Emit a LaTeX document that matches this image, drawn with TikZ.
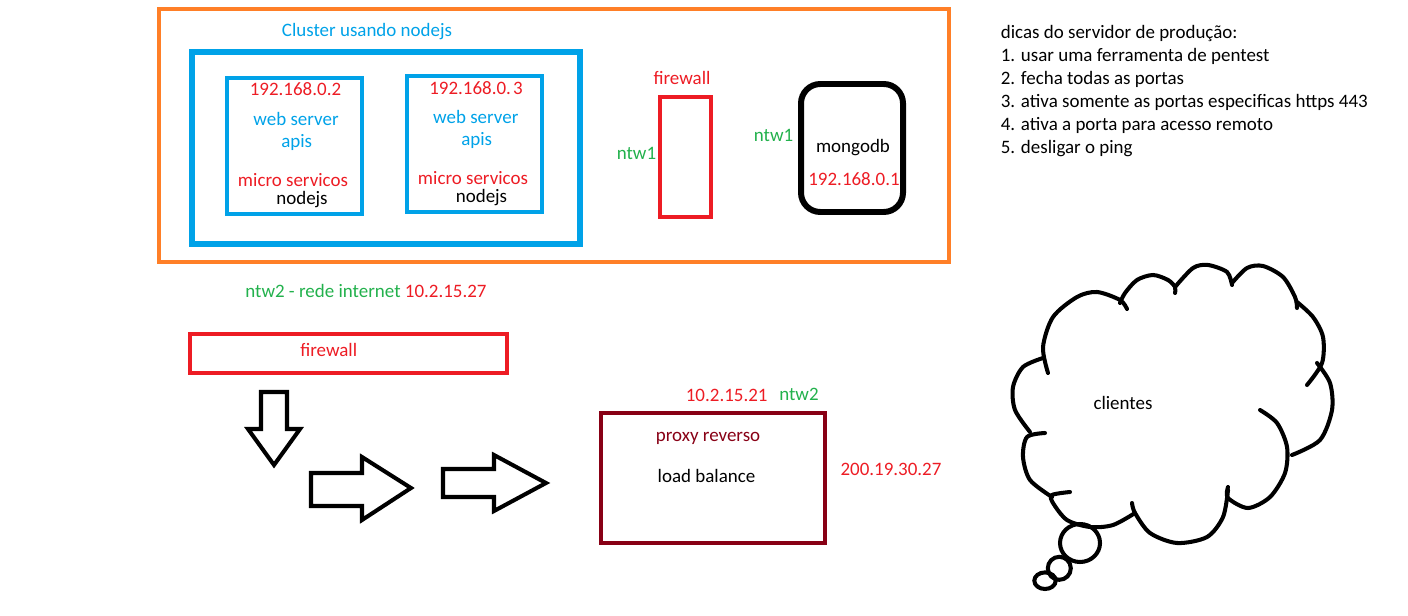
\documentclass[tikz,border=0pt]{standalone}
\usepackage{fontspec}
\setmainfont{Carlito}
\definecolor{paintorange}{HTML}{FF7F27}
\definecolor{paintblue}{HTML}{00A2E8}
\definecolor{paintred}{HTML}{ED1C24}
\definecolor{paintgreen}{HTML}{22B14C}
\definecolor{paintwine}{HTML}{880015}
\tikzset{
    lbl/.style={anchor=base, inner sep=0pt, font=\fontsize{10.8}{13}\selectfont},
    ip/.style={lbl, text=paintred},
    net/.style={lbl, text=paintgreen},
    svc/.style={lbl, text=paintblue},
    blockarrow/.style={line width=2.3pt, line join=miter},
    cloudline/.style={line width=2.3pt, line cap=round}
}
\begin{document}
\begin{tikzpicture}[x=0.02cm,y=-0.02cm]
        \useasboundingbox (0,0) rectangle (1408,615);
        \draw[paintorange, line width=2.3pt] (159,9) rectangle (949,262);
        \node[svc] (cluster) at (367,37) {Cluster usando nodejs};
        \draw[paintblue, line width=3.4pt] (192,52) rectangle (580,244);
        \draw[paintblue, line width=2.7pt] (227,78) rectangle (362,214);
        \draw[paintblue, line width=2.7pt] (407,76) rectangle (542,212);
        \node[ip] (ipa) at (295.5,95.7) {192.168.0.2};
        \node[svc] (weba) at (296,125) {web server};
        \node[svc] (apisa) at (296.7,147.7) {apis};
        \node[ip] (microa) at (293,186) {micro servicos};
        \node[lbl] (nodea) at (302,204) {nodejs};
        \node[ip] (ipb) at (476,94) {192.168.0.\kern1.2pt3};
        \node[svc] (webb) at (475.8,123) {web server};
        \node[svc] (apisb) at (476.7,145.7) {apis};
        \node[ip] (microb) at (473,184) {micro servicos};
        \node[lbl] (nodeb) at (481.5,202) {nodejs};
        \node[ip] (fwtop) at (682,85) {firewall};
        \draw[paintred, line width=2.3pt] (660,97) rectangle (711,217);
        \node[net] (ntwa) at (636.5,159) {ntw1};
        \node[net] (ntwb) at (773.6,141) {ntw1};
        \draw[line width=3.4pt, rounded corners=11pt] (801,84) rectangle (903,212);
        \node[lbl] (mongo) at (853,152) {mongodb};
        \node[ip] (ipmongo) at (854,185) {192.168.0.1};
        \foreach \t [count=\i from 0] in {{dicas do servidor de produção:}, {1. usar uma ferramenta de pentest}, {2. fecha todas as portas}, {3. ativa somente as portas especificas https 443}, {4. ativa a porta para acesso remoto}, {5. desligar o ping}}
            \node[lbl, anchor=base west] (tip\i) at (1000.5,38.3+23.1*\i) {\t};
        \node[lbl, anchor=base west] (internet) at (245,297) {\color{paintgreen}ntw2 - rede internet \color{paintred}10.2.15.27};
        \draw[paintred, line width=2.5pt] (190,334) rectangle (507,373);
        \node[ip] (fwbottom) at (328.7,356) {firewall};
        \draw[blockarrow] (261,392) -- (287,392) -- (287,429) -- (300,429) -- (274,465) -- (248,429) -- (261,429) -- cycle;
        \draw[blockarrow] (311,473) -- (362,473) -- (362,457) -- (411,488) -- (362,520) -- (362,506) -- (311,506) -- cycle;
        \draw[blockarrow] (443,469) -- (494,469) -- (494,455) -- (546,483) -- (494,511) -- (494,497) -- (443,497) -- cycle;
        \draw[paintwine, line width=2.8pt] (601,413) rectangle (825,543);
        \node[ip] (ipproxy) at (726.7,401.7) {10.2.15.21};
        \node[net] (ntwc) at (799,400) {ntw2};
        \node[lbl, text=paintwine] (proxy) at (708,441.7) {proxy reverso};
        \node[lbl] (balance) at (706.5,482.3) {load balance};
        \node[ip] (ippublic) at (891,475) {200.19.30.27};
        \draw[cloudline] plot[smooth] coordinates {(1048,373) (1043,347) (1053,317) (1077,297) (1097,292) (1120,300) (1127,309)};
        \draw[cloudline] plot[smooth] coordinates {(1120,303) (1125,293) (1137,280) (1153,275) (1168,280) (1175,287) (1175,293)};
        \draw[cloudline] plot[smooth] coordinates {(1175,287) (1193,268) (1208,265) (1227,272) (1232,285)};
        \draw[cloudline] plot[smooth] coordinates {(1232,283) (1247,268) (1263,266) (1283,277) (1295,297) (1297,308)};
        \draw[cloudline] plot[smooth] coordinates {(1297,302) (1313,317) (1323,337) (1322,363) (1307,385)};
        \draw[cloudline] plot[smooth] coordinates {(1317,363) (1330,383) (1332,410) (1320,440) (1292,455)};
        \draw[cloudline] plot[smooth] coordinates {(1260,410) (1277,423) (1287,447) (1285,473) (1270,497) (1248,508) (1228,498) (1228,487)};
        \draw[cloudline] plot[smooth] coordinates {(1228,490) (1223,517) (1207,537) (1177,543) (1150,533) (1135,513) (1132,503)};
        \draw[cloudline] plot[smooth] coordinates {(1135,513) (1113,525) (1090,527) (1067,520) (1053,503) (1052,495) (1070,492)};
        \draw[cloudline] plot[smooth] coordinates {(1052,497) (1030,480) (1023,457) (1027,437) (1045,433)};
        \draw[cloudline] plot[smooth] coordinates {(1030,432) (1015,410) (1013,387) (1023,367) (1043,358)};
        \draw[cloudline] (1080,543) circle [x radius=20, y radius=19];
        \draw[cloudline] (1059.3,568.3) circle [radius=11.5];
        \draw[cloudline] (1045,580.7) circle [x radius=10.7, y radius=8.3];
        \node[lbl] (clients) at (1123,409) {clientes};
\end{tikzpicture}
\end{document}
